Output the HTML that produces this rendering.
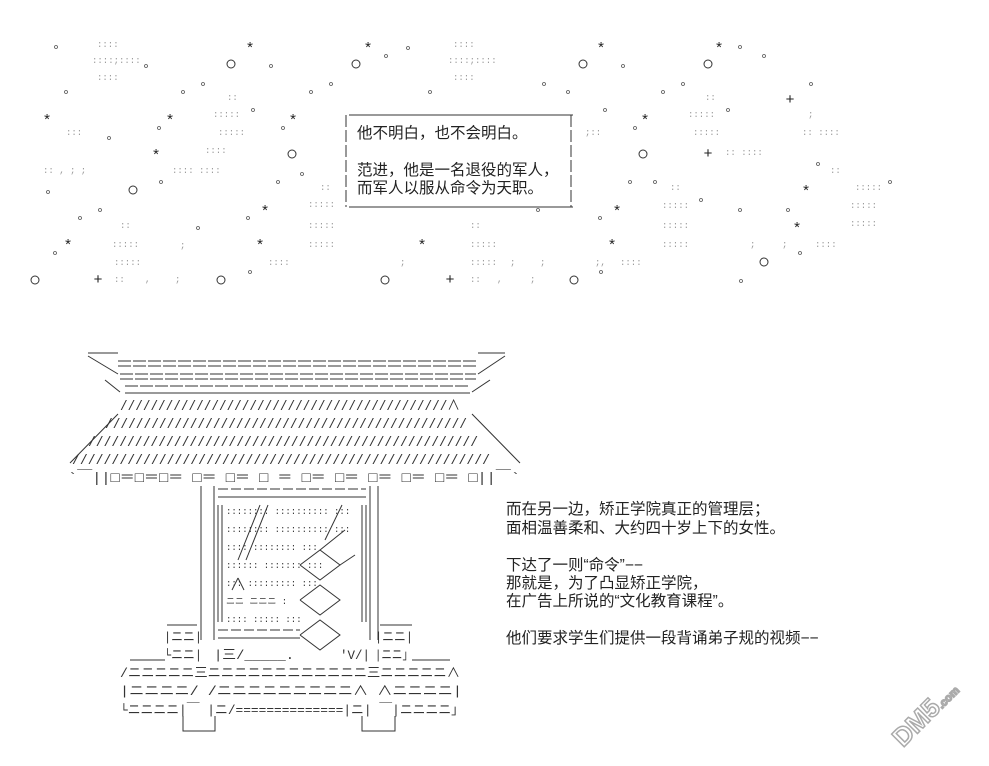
<!DOCTYPE html>
<html><head><meta charset="utf-8"><style>
html,body{margin:0;padding:0;background:#fff;width:989px;height:766px;overflow:hidden}
svg{display:block}
.t{font-family:"Liberation Sans","Noto Sans CJK SC",sans-serif;font-size:15.5px;fill:#222}
.m{font-family:"Liberation Mono","Noto Sans CJK SC",monospace;fill:#333}
.d{font-family:"Liberation Mono",monospace;font-size:9px;fill:#999}
.s{font-family:"Liberation Sans",sans-serif;font-size:15px;fill:#222}
</style></head><body>
<svg width="989" height="766" viewBox="0 0 989 766" xmlns="http://www.w3.org/2000/svg">
<g class="s" text-anchor="middle">
<text x="250" y="52">*</text><text x="368" y="52">*</text><text x="601" y="52">*</text><text x="719" y="52">*</text>
<text x="47" y="124">*</text><text x="170" y="124">*</text><text x="293" y="124">*</text><text x="645" y="124">*</text>
<text x="156" y="159">*</text><text x="265" y="215">*</text><text x="617" y="215">*</text><text x="806" y="195">*</text>
<text x="68" y="249">*</text><text x="260" y="249">*</text><text x="422" y="249">*</text><text x="612" y="249">*</text><text x="797" y="232">*</text>
<text x="790" y="104">+</text><text x="708" y="158">+</text><text x="98" y="284">+</text><text x="450" y="284">+</text>
</g>
<g fill="none" stroke="#333" stroke-width="1">
<circle cx="231" cy="64" r="4"/><circle cx="356" cy="64" r="4"/><circle cx="583" cy="64" r="4"/><circle cx="708" cy="64" r="4"/>
<circle cx="292" cy="154" r="4"/><circle cx="643" cy="154" r="4"/><circle cx="133" cy="190" r="4"/><circle cx="35" cy="280" r="4"/>
<circle cx="221" cy="280" r="4"/><circle cx="385" cy="280" r="4"/><circle cx="574" cy="280" r="4"/><circle cx="764" cy="262" r="4"/>
</g>
<g fill="none" stroke="#555" stroke-width="0.8">
<circle cx="56" cy="47" r="1.5"/><circle cx="146" cy="66" r="1.5"/><circle cx="271" cy="66" r="1.5"/><circle cx="203" cy="84" r="1.5"/><circle cx="66" cy="92" r="1.5"/><circle cx="183" cy="92" r="1.5"/><circle cx="311" cy="92" r="1.5"/><circle cx="331" cy="84" r="1.5"/><circle cx="253" cy="110" r="1.5"/><circle cx="159" cy="128" r="1.5"/><circle cx="283" cy="128" r="1.5"/><circle cx="109" cy="138" r="1.5"/><circle cx="302" cy="174" r="1.5"/><circle cx="48" cy="192" r="1.5"/><circle cx="278" cy="182" r="1.5"/><circle cx="161" cy="182" r="1.5"/><circle cx="100" cy="210" r="1.5"/><circle cx="80" cy="218" r="1.5"/><circle cx="248" cy="218" r="1.5"/><circle cx="198" cy="228" r="1.5"/><circle cx="55" cy="253" r="1.5"/><circle cx="250" cy="272" r="1.5"/>
<circle cx="386" cy="56" r="1.5"/><circle cx="408" cy="48" r="1.5"/><circle cx="623" cy="66" r="1.5"/><circle cx="764" cy="56" r="1.5"/><circle cx="740" cy="47" r="1.5"/><circle cx="683" cy="84" r="1.5"/><circle cx="811" cy="84" r="1.5"/><circle cx="663" cy="92" r="1.5"/><circle cx="605" cy="110" r="1.5"/><circle cx="728" cy="110" r="1.5"/><circle cx="635" cy="128" r="1.5"/><circle cx="818" cy="164" r="1.5"/><circle cx="655" cy="182" r="1.5"/><circle cx="630" cy="182" r="1.5"/><circle cx="890" cy="182" r="1.5"/><circle cx="701" cy="200" r="1.5"/><circle cx="740" cy="210" r="1.5"/><circle cx="600" cy="218" r="1.5"/><circle cx="788" cy="210" r="1.5"/><circle cx="538" cy="210" r="1.5"/><circle cx="800" cy="253" r="1.5"/><circle cx="741" cy="281" r="1.5"/><circle cx="601" cy="272" r="1.5"/><circle cx="430" cy="92" r="1.5"/><circle cx="544" cy="84" r="1.5"/><circle cx="568" cy="92" r="1.5"/>
</g>
<g class="d">
<text x="97" y="47">::::</text><text x="92" y="63">::::;::::</text><text x="97" y="80">::::</text>
<text x="453" y="47">::::</text><text x="448" y="63">::::;::::</text><text x="453" y="80">::::</text>
<text x="213" y="117">:::::</text><text x="218" y="135">:::::</text><text x="205" y="153">::::</text><text x="172" y="173">::::  ::::</text>
<text x="66" y="135">:::</text><text x="43" y="173">::    ,      ;      ;</text>
<text x="308" y="207">:::::</text><text x="308" y="228">:::::</text><text x="308" y="247">:::::</text><text x="112" y="247">:::::</text><text x="114" y="265">:::::</text>
<text x="120" y="228">::</text><text x="180" y="248">;</text><text x="268" y="265">::::</text><text x="114" y="282">::</text><text x="175" y="282">;</text><text x="145" y="282">,</text>
<text x="470" y="247">:::::</text><text x="470" y="265">:::::</text><text x="470" y="282">::</text><text x="497" y="282">,</text><text x="530" y="282">;</text><text x="620" y="265">::::</text><text x="595" y="265">;,</text><text x="510" y="265">;</text><text x="540" y="265">;</text><text x="400" y="265">;</text>
<text x="688" y="117">:::::</text><text x="693" y="135">:::::</text><text x="808" y="117">;</text><text x="802" y="135">:: ::::</text><text x="725" y="155">:: ::::</text>
<text x="855" y="190">:::::</text><text x="850" y="208">:::::</text><text x="850" y="226">:::::</text><text x="662" y="208">:::::</text><text x="662" y="228">:::::</text><text x="662" y="247">:::::</text>
<text x="815" y="247">::::</text><text x="750" y="247">;</text><text x="782" y="247">;</text><text x="705" y="100">::</text><text x="227" y="100">::</text><text x="470" y="228">::</text><text x="320" y="190">::</text><text x="670" y="190">::</text><text x="585" y="135">;::</text><text x="830" y="173">::</text>
</g>
<g stroke="#333" stroke-width="1" fill="none">
<line x1="349" y1="115" x2="573" y2="115"/><line x1="349" y1="207" x2="573" y2="207"/>
<line x1="346" y1="115" x2="346" y2="207" stroke-dasharray="12 3"/><line x1="571" y1="115" x2="571" y2="207" stroke-dasharray="12 3"/>
</g>
<text class="t" x="357" y="138">他不明白，也不会明白。</text>
<text class="t" x="357" y="175">范进，他是一名退役的军人，</text>
<text class="t" x="357" y="193">而军人以服从命令为天职。</text>
<g stroke="#333" stroke-width="1" fill="none">
<line x1="88" y1="353" x2="118" y2="353"/><line x1="478" y1="353" x2="505" y2="353"/>
<line x1="118" y1="361" x2="478" y2="361" stroke-dasharray="13 2"/><line x1="118" y1="366" x2="478" y2="366" stroke-dasharray="13 2"/>
<line x1="120" y1="374" x2="476" y2="374" stroke-dasharray="13 2"/><line x1="120" y1="379" x2="476" y2="379" stroke-dasharray="13 2"/>
<line x1="125" y1="386" x2="470" y2="386" stroke-dasharray="13 2"/><line x1="125" y1="393" x2="470" y2="393"/>
<line x1="88" y1="356" x2="118" y2="374"/><line x1="105" y1="380" x2="120" y2="392"/>
<line x1="505" y1="356" x2="478" y2="374"/><line x1="490" y1="380" x2="472" y2="392"/>
<line x1="118" y1="414" x2="70" y2="463"/><line x1="472" y1="414" x2="520" y2="463"/>
</g>
<g class="m" font-size="14">
<text x="120" y="410" textLength="340" lengthAdjust="spacingAndGlyphs">///////////////////////////////////////////∧</text>
<text x="105" y="428" textLength="362" lengthAdjust="spacingAndGlyphs">///////////////////////////////////////////////</text>
<text x="88" y="446" textLength="390" lengthAdjust="spacingAndGlyphs">//////////////////////////////////////////////////</text>
<text x="72" y="464" textLength="418" lengthAdjust="spacingAndGlyphs">/////////////////////////////////////////////////////</text>
</g>
<text class="m" font-size="14" x="68" y="482" textLength="452" lengthAdjust="spacingAndGlyphs">`￣||□＝□＝□＝ □＝ □＝ □ ＝ □＝ □＝ □＝ □＝ □＝ □||￣`</text>
<g stroke="#333" stroke-width="1" fill="none">
<line x1="201" y1="486" x2="201" y2="640"/><line x1="214" y1="486" x2="214" y2="640"/>
<line x1="370" y1="486" x2="370" y2="640"/><line x1="378" y1="486" x2="378" y2="640"/>
<line x1="218" y1="489" x2="366" y2="489" stroke-dasharray="10 3"/><line x1="218" y1="497" x2="366" y2="497"/>
<line x1="218" y1="505" x2="218" y2="622"/><line x1="222" y1="505" x2="222" y2="622"/>
<line x1="362" y1="505" x2="362" y2="622"/><line x1="366" y1="505" x2="366" y2="622"/>
<line x1="218" y1="630" x2="300" y2="630" stroke-dasharray="10 3"/><line x1="218" y1="638" x2="300" y2="638"/>
<line x1="260" y1="505" x2="238" y2="560"/><line x1="268" y1="505" x2="246" y2="560"/>
<line x1="342" y1="505" x2="325" y2="540"/>
<line x1="232" y1="590" x2="238" y2="578"/><line x1="238" y1="578" x2="244" y2="590"/>
<polyline points="300,565 320,550 340,565 320,580 300,565"/>
<polyline points="300,600 320,585 340,600 320,615 300,600"/>
<polyline points="300,635 320,620 340,635 320,650 300,635"/>
<line x1="320" y1="550" x2="345" y2="530"/><line x1="340" y1="565" x2="355" y2="555"/>
<line x1="167" y1="625" x2="197" y2="625"/><line x1="380" y1="625" x2="412" y2="625"/>
<line x1="130" y1="660" x2="165" y2="660"/><line x1="412" y1="660" x2="450" y2="660"/>
</g>
<g class="m" font-size="9" fill="#888">
<text x="226" y="514">::::::::  ::::::::::   :::</text><text x="226" y="532">::::::::  ::::::::::   :::</text><text x="226" y="550">::::  ::::::::     :::</text><text x="226" y="568">::::::  :::::::      :::</text><text x="226" y="586">:::  :::::::::       :::</text><text x="226" y="604">ニニ  ニニニ        :</text><text x="226" y="622">::::   :::::       :::</text>
</g>
<g class="m" font-size="13" fill="#333">
<text x="164" y="641" textLength="38" lengthAdjust="spacingAndGlyphs">|ニニ|</text>
<text x="164" y="659" textLength="38" lengthAdjust="spacingAndGlyphs">└ニニ|</text>
<text x="375" y="641" textLength="38" lengthAdjust="spacingAndGlyphs">|ニニ|</text>
<text x="375" y="659" textLength="38" lengthAdjust="spacingAndGlyphs">|ニニ」</text>
<text x="214" y="659" textLength="80" lengthAdjust="spacingAndGlyphs">|三/_____.</text>
<text x="340" y="659" textLength="30" lengthAdjust="spacingAndGlyphs">'V/|</text>
<text x="120" y="677" textLength="340" lengthAdjust="spacingAndGlyphs">/ニニニニニ三ニニニニニニニニニニニニ三ニニニニニ∧</text>
<text x="120" y="695" textLength="342" lengthAdjust="spacingAndGlyphs">|ニニニニ/   /ニニニニニニニニニ∧   ∧ニニニニ|</text>
<text x="120" y="714" textLength="344" lengthAdjust="spacingAndGlyphs">└ニニニニ|￣  |ニ/==============|ニ|  ￣|ニニニニ」</text>
</g>
<g stroke="#333" fill="none"><polyline points="183,716 183,731 215,731 215,716"/><polyline points="362,716 362,731 395,731 395,716"/></g>
<g class="t">
<text x="506" y="514">而在另一边，矫正学院真正的管理层；</text>
<text x="506" y="533">面相温善柔和、大约四十岁上下的女性。</text>
<text x="506" y="570">下达了一则“命令”−−</text>
<text x="506" y="588">那就是，为了凸显矫正学院，</text>
<text x="506" y="606">在广告上所说的“文化教育课程”。</text>
<text x="506" y="643">他们要求学生们提供一段背诵弟子规的视频−−</text>
</g>
<text x="0" y="0" transform="translate(903,748) rotate(-45)" font-family="Liberation Sans,sans-serif" font-weight="bold" font-size="26" fill="#fff" stroke="#aaa" stroke-width="1.5">DM5<tspan font-size="11">.com</tspan></text>
</svg>
</body></html>
